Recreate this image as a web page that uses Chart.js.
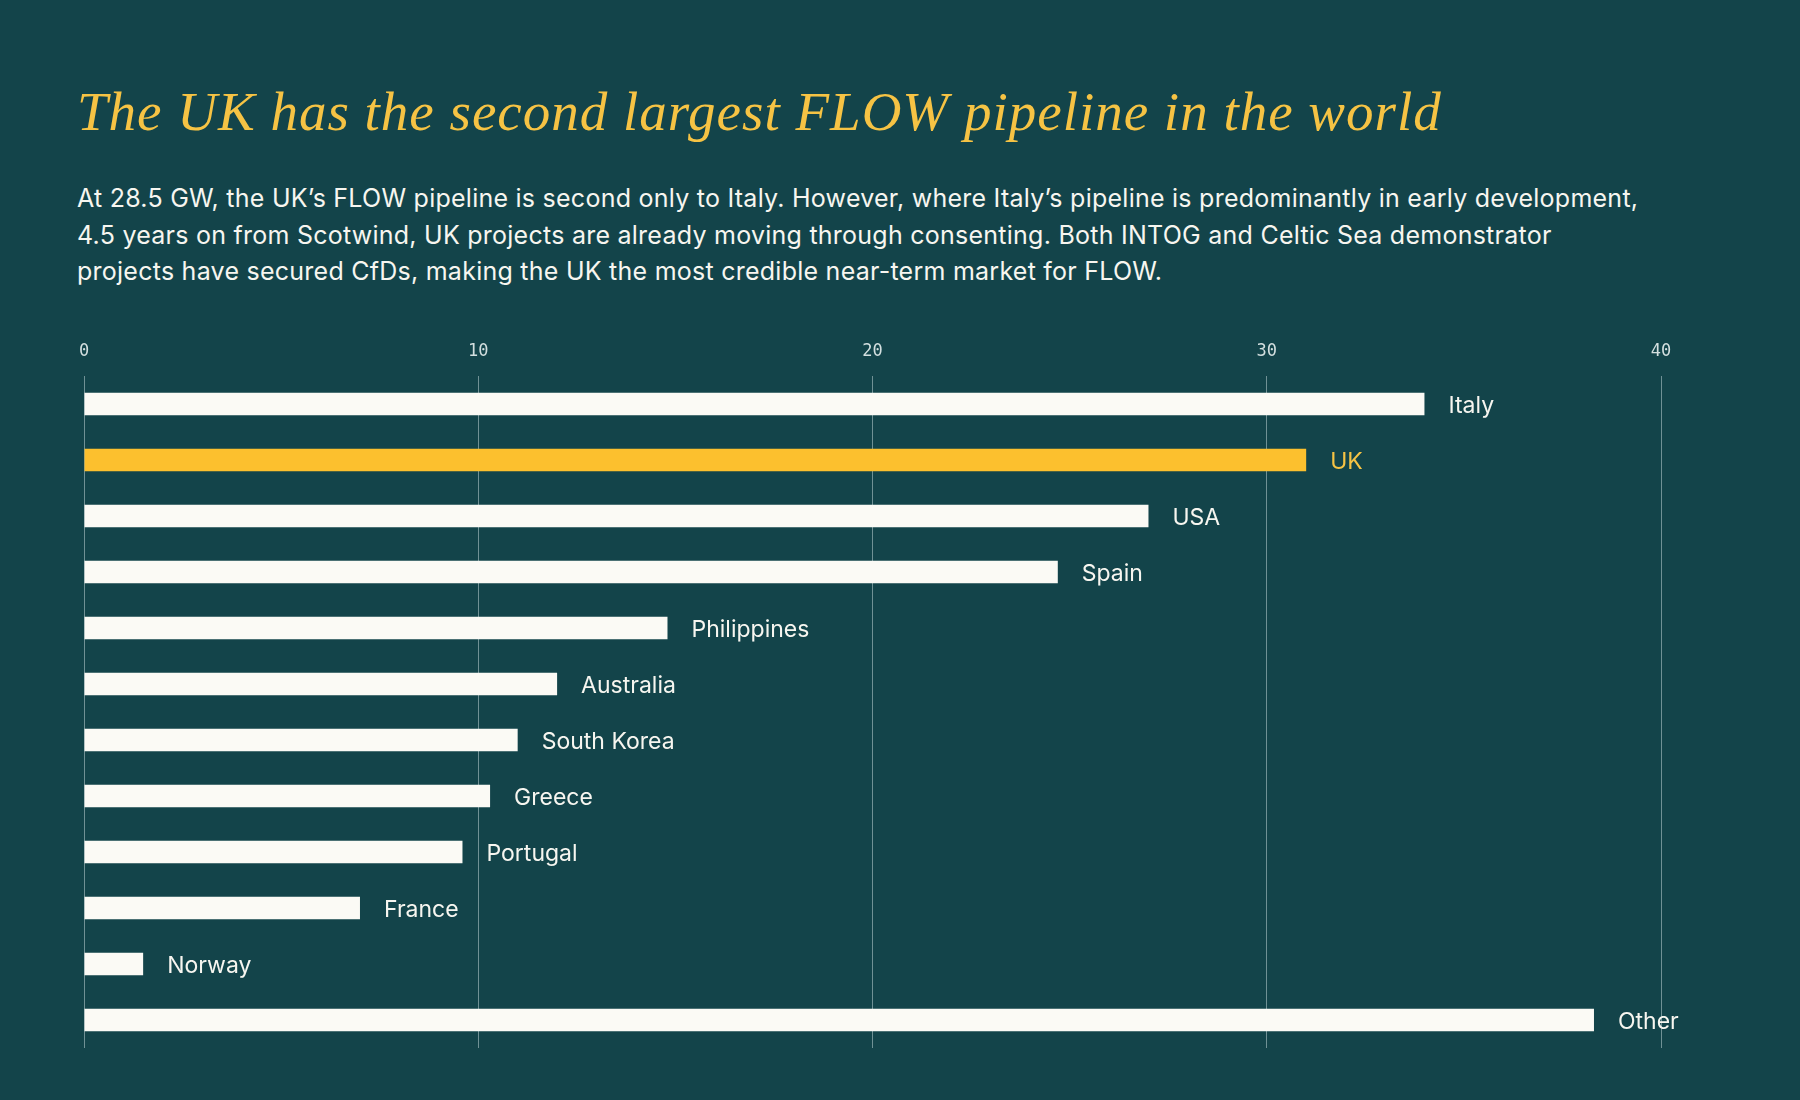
<!DOCTYPE html>
<html>
<head>
<meta charset="utf-8">
<script src="https://cdn.jsdelivr.net/npm/chart.js@4.4.1/dist/chart.umd.min.js"></script>
<style>
    html, body { margin: 0; padding: 0; background: #13444a; }
    #wrap { position: relative; width: 1800px; height: 1100px; overflow: hidden; }
    #title {
        position: absolute; left: 77px; top: 80px; margin: 0;
        font: italic 400 55px/64px "Liberation Serif", serif;
        color: #f6c344; white-space: nowrap; letter-spacing: 1px;
    }
    #sub {
        position: absolute; left: 77px; top: 180px; margin: 0;
        font: 400 25px/36.5px Inter, "Noto Sans", sans-serif;
        color: #f7f6f0; letter-spacing: 0.25px; white-space: nowrap;
    }
    #chartBox { position: absolute; left: 0; top: 0; width: 1800px; height: 1100px; }
</style>
</head>
<body>
<div id="wrap">
    <h1 id="title">The UK has the second largest FLOW pipeline in the world</h1>
    <p id="sub">At 28.5 GW, the UK’s FLOW pipeline is second only to Italy. However, where Italy’s pipeline is predominantly in early development,<br>4.5 years on from Scotwind, UK projects are already moving through consenting. Both INTOG and Celtic Sea demonstrator<br>projects have secured CfDs, making the UK the most credible near-term market for FLOW.</p>
    <div id="chartBox"><canvas id="flowChart" width="1800" height="1100"></canvas></div>
</div>
<script>
const countries = ['Italy', 'UK', 'USA', 'Spain', 'Philippines', 'Australia', 'South Korea', 'Greece', 'Portugal', 'France', 'Norway', 'Other'];
const pipelineGW = [34.0, 31.0, 27.0, 24.7, 14.8, 12.0, 11.0, 10.3, 9.6, 7.0, 1.5, 38.3];
const xTicks = [0, 10, 20, 30, 40];
const highlight = 'UK';

const CREAM = '#fbfaf5';
const YELLOW = '#fcc02e';

// country names written just past the end of each bar
const barLabels = {
    id: 'barLabels',
    afterDatasetsDraw(chart) {
        const { ctx } = chart;
        const meta = chart.getDatasetMeta(0);
        ctx.save();
        ctx.font = '400 23px Inter, "Noto Sans", sans-serif';
        ctx.textAlign = 'left';
        ctx.textBaseline = 'alphabetic';
        meta.data.forEach((bar, i) => {
            ctx.fillStyle = countries[i] === highlight ? '#f6c344' : '#f7f6f0';
            ctx.fillText(countries[i], bar.x + 24, bar.y + 9);
        });
        ctx.restore();
    }
};

Chart.defaults.animation = false;

new Chart(document.getElementById('flowChart'), {
    type: 'bar',
    data: {
        labels: countries,
        datasets: [{
            data: pipelineGW,
            backgroundColor: countries.map(c => c === highlight ? YELLOW : CREAM),
            borderWidth: 0,
            categoryPercentage: 1,
            barPercentage: 0.405
        }]
    },
    options: {
        indexAxis: 'y',
        responsive: false,
        layout: { padding: { left: 84, right: 139, top: 336, bottom: 52 } },
        plugins: { legend: { display: false }, tooltip: { enabled: false } },
        scales: {
            x: {
                position: 'top',
                min: 0,
                max: 40,
                afterBuildTicks: s => { s.ticks = xTicks.map(v => ({ value: v })); },
                afterFit: s => { s.height = 40; },
                ticks: {
                    color: '#d3dfdf',
                    padding: 14,
                    font: { family: '"DejaVu Sans Mono", monospace', size: 17 }
                },
                grid: { color: 'rgba(190,210,212,0.55)', lineWidth: 1, drawTicks: false },
                border: { display: false }
            },
            y: { display: false }
        }
    },
    plugins: [barLabels]
});
</script>
</body>
</html>
